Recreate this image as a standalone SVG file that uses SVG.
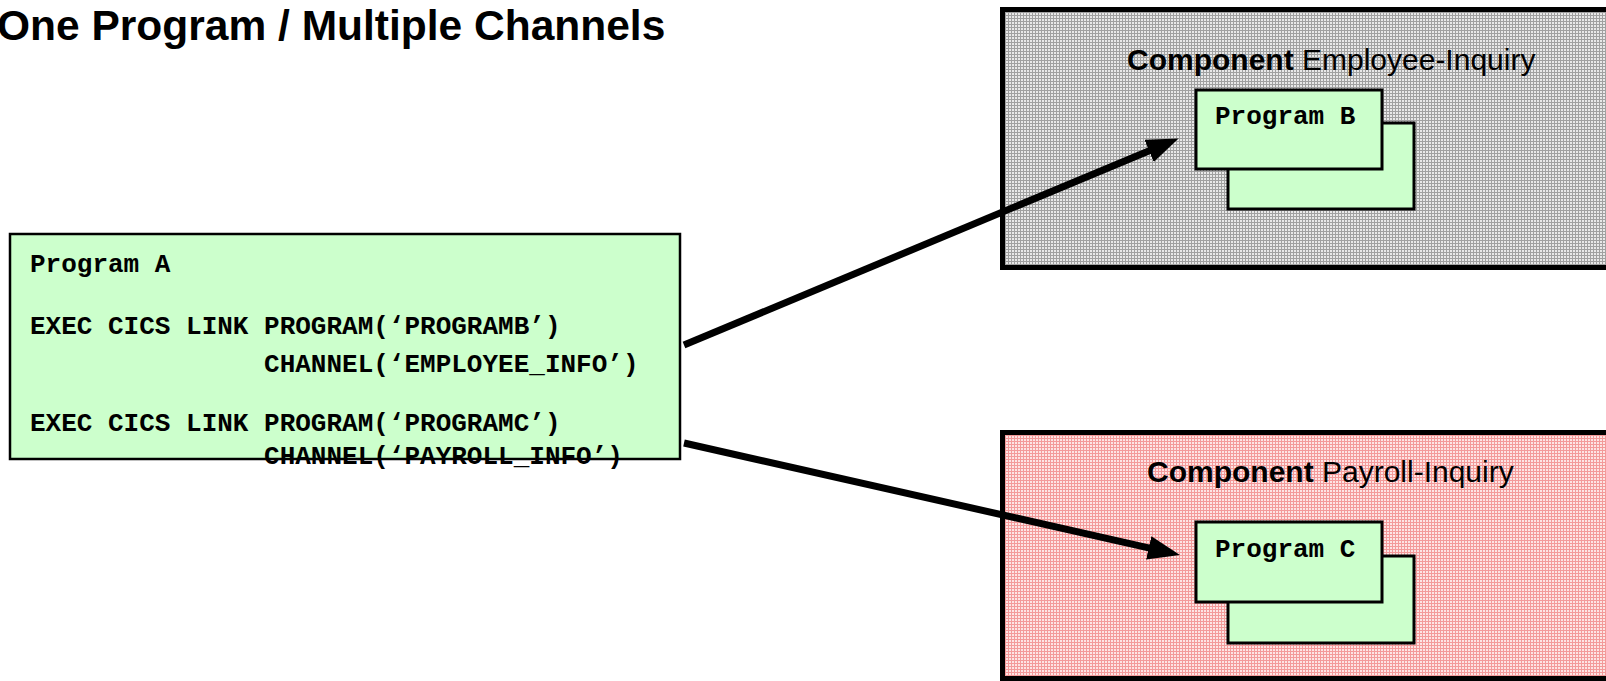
<svg xmlns="http://www.w3.org/2000/svg" width="1606" height="681" viewBox="0 0 1606 681">
<style>
.title{font-family:"Liberation Sans",Arial,sans-serif;font-weight:bold;font-size:42.5px;fill:#000}
.comp{font-family:"Liberation Sans",Arial,sans-serif;font-size:30px;fill:#000}
.comp .b{font-weight:bold}
.code{font-family:"Liberation Mono","Courier New",monospace;font-weight:bold;font-size:26px;fill:#000;white-space:pre}
.prog{fill:#ccffcc;stroke:#000;stroke-width:3}
.outer{stroke:#000;stroke-width:5}
.conn{fill:none;stroke:#000;stroke-width:7;marker-end:url(#ah)}
</style>
<defs>
<pattern id="greyPat" width="3" height="3" patternUnits="userSpaceOnUse">
<rect width="3" height="3" fill="#e8e8e8"/>
<rect width="3" height="1" fill="#a0a0a0"/>
<rect width="1" height="3" fill="#a0a0a0"/>
</pattern>
<pattern id="pinkPat" width="3" height="3" patternUnits="userSpaceOnUse">
<rect width="3" height="3" fill="#fde4e4"/>
<rect width="3" height="1" fill="#f39a9a"/>
<rect width="1" height="3" fill="#f39a9a"/>
</pattern>
<marker id="ah" viewBox="0 0 32 24" markerWidth="32" markerHeight="24" refX="10" refY="12" orient="auto" markerUnits="userSpaceOnUse">
<path d="M0,0 L32,12 L0,24 z" fill="#000"/>
</marker>
</defs>
<rect width="1606" height="681" fill="#fff"/>
<text class="title" x="-3" y="40">One Program / Multiple Channels</text>

<g id="employee-inquiry">
<rect class="outer" x="1002.5" y="9.5" width="620" height="258" fill="url(#greyPat)"/>
<text class="comp" x="1127" y="70"><tspan class="b">Component</tspan> Employee-Inquiry</text>
</g>
<g id="program-b">
<rect class="prog" x="1228" y="123" width="186" height="86"/>
<rect class="prog" x="1196" y="90" width="186" height="79"/>
<text class="code" x="1215" y="124">Program B</text>
</g>

<g id="payroll-inquiry">
<rect class="outer" x="1002.5" y="432.5" width="620" height="246" fill="url(#pinkPat)"/>
<text class="comp" x="1147" y="482"><tspan class="b">Component</tspan> Payroll-Inquiry</text>
</g>
<g id="program-c">
<rect class="prog" x="1228" y="556" width="186" height="87"/>
<rect class="prog" x="1196" y="522" width="186" height="80"/>
<text class="code" x="1215" y="557">Program C</text>
</g>

<g id="program-a">
<rect x="10" y="234" width="670" height="225" fill="#ccffcc" stroke="#000" stroke-width="2.5"/>
<text class="code" x="30" y="272">Program A</text>
<text class="code" x="30" y="334">EXEC CICS LINK PROGRAM(‘PROGRAMB’)</text>
<text class="code" x="30" y="372">               CHANNEL(‘EMPLOYEE_INFO’)</text>
<text class="code" x="30" y="431">EXEC CICS LINK PROGRAM(‘PROGRAMC’)</text>
<text class="code" x="30" y="464">               CHANNEL(‘PAYROLL_INFO’)</text>
</g>

<g id="connectors">
<path class="conn" d="M684,345 L1158.3,147"/>
<path class="conn" d="M684,443 L1158.5,550.1"/>
</g>
</svg>
